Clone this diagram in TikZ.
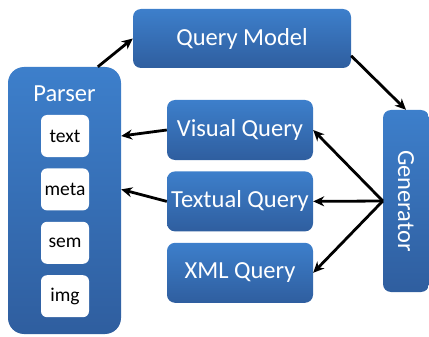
\documentclass[tikz,border=0pt]{standalone}
\usepackage{fontspec}
\setmainfont{Carlito}
\usetikzlibrary{arrows.meta,positioning}
\definecolor{qtop}{HTML}{3D7FCB}
\definecolor{qbot}{HTML}{2F5E9F}

\begin{document}
\begin{tikzpicture}[x=1pt,y=-1pt,node distance=11pt,every node/.style={font=\fontsize{24.5}{28}\selectfont,align=center},qbox/.style={rounded corners=8pt,top color=qtop,bottom color=qbot,text=white,inner sep=0pt},query/.style={qbox,minimum width=146pt,minimum height=60pt},field/.style={rounded corners=6pt,fill=white,minimum width=48pt,minimum height=42pt,inner sep=0pt,font=\fontsize{19.5}{22}\selectfont},arrow/.style={-{Stealth[length=11pt,width=10pt]},line width=2.8pt}]
\useasboundingbox (0,0) rectangle (429,337);
\node[qbox,minimum width=218pt,minimum height=59pt] (qm) at (242,38.5) {Query Model};
% parser with its four fields
\node[qbox,rounded corners=16pt,minimum width=113pt,minimum height=267pt] (parser) at (64.5,200.5) {};
\node[text=white] (ptitle) at (64.5,94) {Parser};
\node[field] (ptext) at (65,136) {text};
\node[field,below=of ptext] (pmeta) {meta};
\node[field,below=of pmeta] (psem) {sem};
\node[field,below=of psem] (pimg) {img};
% queries and generator
\node[query] (vq) at (240,130) {Visual Query};
\node[query,below=of vq] (tq) {Textual Query};
\node[query,below=of tq] (xq) {XML Query};
\node[qbox,rotate=-90,minimum width=182pt,minimum height=46pt] (gen) at (406,201) {Generator};
\draw[arrow] (parser.76)--(qm.west);\draw[arrow] (qm.-9)--(gen.west);
\draw[arrow] (gen.south)--(vq.east);\draw[arrow] (gen.south)--(tq.east);\draw[arrow] (gen.south)--(xq.east);
\draw[arrow] (vq.west)--(parser.east |- ptext);\draw[arrow] (tq.west)--(parser.east |- pmeta);
\end{tikzpicture}
\end{document}
